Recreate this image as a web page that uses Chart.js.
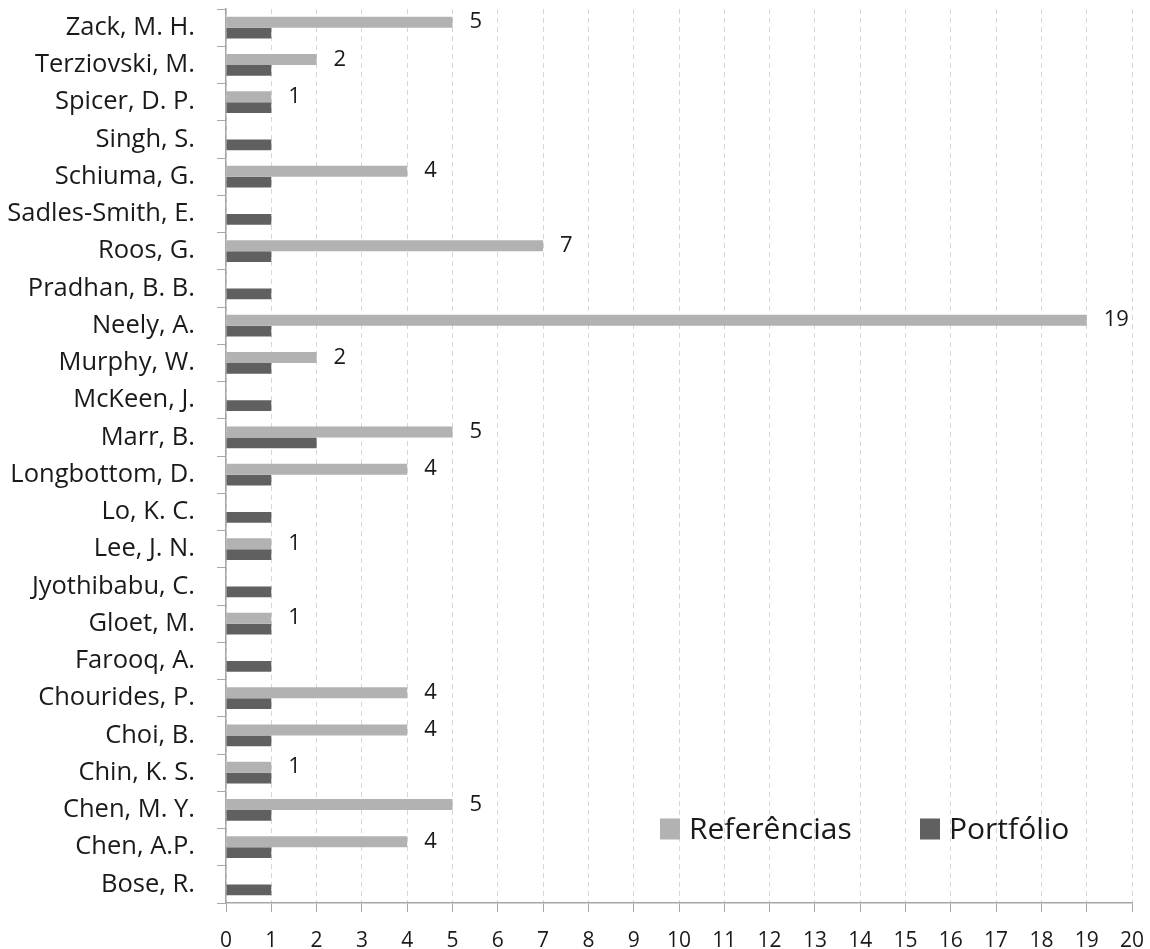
<!DOCTYPE html>
<html>
<head>
<meta charset="utf-8">
<script src="https://cdn.jsdelivr.net/npm/chart.js@4.4.1/dist/chart.umd.min.js"></script>
<style>
  html, body { margin: 0; padding: 0; background: #ffffff; }
  #wrap { width: 1150px; height: 949px; }
</style>
</head>
<body>
<div id="wrap"><canvas id="chart" width="1150" height="949"></canvas></div>
<script>
// Authors, listed top to bottom
const authors = [
  'Zack, M. H.', 'Terziovski, M.', 'Spicer, D. P.', 'Singh, S.', 'Schiuma, G.',
  'Sadles-Smith, E.', 'Roos, G.', 'Pradhan, B. B.', 'Neely, A.', 'Murphy, W.',
  'McKeen, J.', 'Marr, B.', 'Longbottom, D.', 'Lo, K. C.', 'Lee, J. N.',
  'Jyothibabu, C.', 'Gloet, M.', 'Farooq, A.', 'Chourides, P.', 'Choi, B.',
  'Chin, K. S.', 'Chen, M. Y.', 'Chen, A.P.', 'Bose, R.'
];

// Number of citations in the references of the portfolio articles
const referencias = [5, 2, 1, 0, 4, 0, 7, 0, 19, 2, 0, 5, 4, 0, 1, 0, 1, 0, 4, 4, 1, 5, 4, 0];

// Number of articles in the bibliographic portfolio
const portfolio = [1, 1, 1, 1, 1, 1, 1, 1, 1, 1, 1, 2, 1, 1, 1, 1, 1, 1, 1, 1, 1, 1, 1, 1];

const seriesNames = ['Referências', 'Portfólio'];
const xMin = 0;
const xMax = 20;

const FONT = "'Open Sans', 'DejaVu Sans', sans-serif";
const TEXT = '#1a1a1a';
const AXIS = '#a6a6a6';

// Value labels to the right of the non-zero "Referências" bars
const valueLabels = {
  id: 'valueLabels',
  afterDatasetsDraw(chart) {
    const ctx = chart.ctx;
    const meta = chart.getDatasetMeta(0);
    const values = chart.data.datasets[0].data;
    ctx.save();
    ctx.font = '22px ' + FONT;
    ctx.fillStyle = TEXT;
    ctx.textAlign = 'left';
    ctx.textBaseline = 'middle';
    meta.data.forEach((bar, i) => {
      if (values[i] > 0) {
        ctx.fillText(String(values[i]), bar.x + 17, bar.y);
      }
    });
    ctx.restore();
  }
};

// Legend drawn inside the plot area, near the lower right
const innerLegend = {
  id: 'innerLegend',
  afterDraw(chart) {
    const ctx = chart.ctx;
    const area = chart.chartArea;
    const w = area.right - area.left;
    const y = area.bottom - 74;
    const starts = [area.left + 0.479 * w, area.left + 0.766 * w];
    ctx.save();
    ctx.font = '30px ' + FONT;
    ctx.textBaseline = 'middle';
    ctx.textAlign = 'left';
    chart.data.datasets.forEach((ds, i) => {
      const x = starts[i];
      ctx.fillStyle = ds.backgroundColor;
      ctx.fillRect(x, y - 10.5, 20, 21);
      ctx.fillStyle = TEXT;
      ctx.fillText(ds.label, x + 29, y + 1);
    });
    ctx.restore();
  }
};

new Chart(document.getElementById('chart'), {
  type: 'bar',
  data: {
    labels: authors,
    datasets: [
      {
        label: seriesNames[0],
        data: referencias,
        backgroundColor: '#b2b2b2',
        borderWidth: 0,
        categoryPercentage: 0.58,
        barPercentage: 1.0
      },
      {
        label: seriesNames[1],
        data: portfolio,
        backgroundColor: '#606060',
        borderWidth: 0,
        categoryPercentage: 0.58,
        barPercentage: 1.0
      }
    ]
  },
  options: {
    indexAxis: 'y',
    responsive: false,
    animation: false,
    devicePixelRatio: 1,
    layout: { padding: { top: 9, right: 18, left: 0, bottom: 0 } },
    plugins: {
      legend: { display: false },
      tooltip: { enabled: false }
    },
    scales: {
      x: {
        type: 'linear',
        position: 'bottom',
        min: xMin,
        max: xMax,
        afterFit(scale) {
          scale.height = 46;
          scale.paddingLeft = 0;
          scale.paddingRight = 0;
        },
        ticks: {
          stepSize: 1,
          color: TEXT,
          font: { family: FONT, size: 21 },
          padding: 16,
          maxRotation: 0,
          autoSkip: false
        },
        grid: {
          color: '#d6d6d6',
          lineWidth: 1,
          drawTicks: true,
          tickLength: 9,
          tickColor: AXIS,
          tickBorderDash: []
        },
        border: {
          display: true,
          color: AXIS,
          width: 1.5,
          dash: [5, 4]
        }
      },
      y: {
        type: 'category',
        position: 'left',
        afterFit(scale) {
          scale.width = 226;
          scale.paddingTop = 0;
          scale.paddingBottom = 0;
        },
        ticks: {
          color: TEXT,
          font: { family: FONT, size: 25.5 },
          padding: 22,
          autoSkip: false
        },
        grid: {
          offset: true,
          drawOnChartArea: false,
          drawTicks: true,
          tickLength: 9,
          color: AXIS,
          tickColor: AXIS
        },
        border: {
          display: true,
          color: AXIS,
          width: 1.5
        }
      }
    }
  },
  plugins: [valueLabels, innerLegend]
});
</script>
</body>
</html>
